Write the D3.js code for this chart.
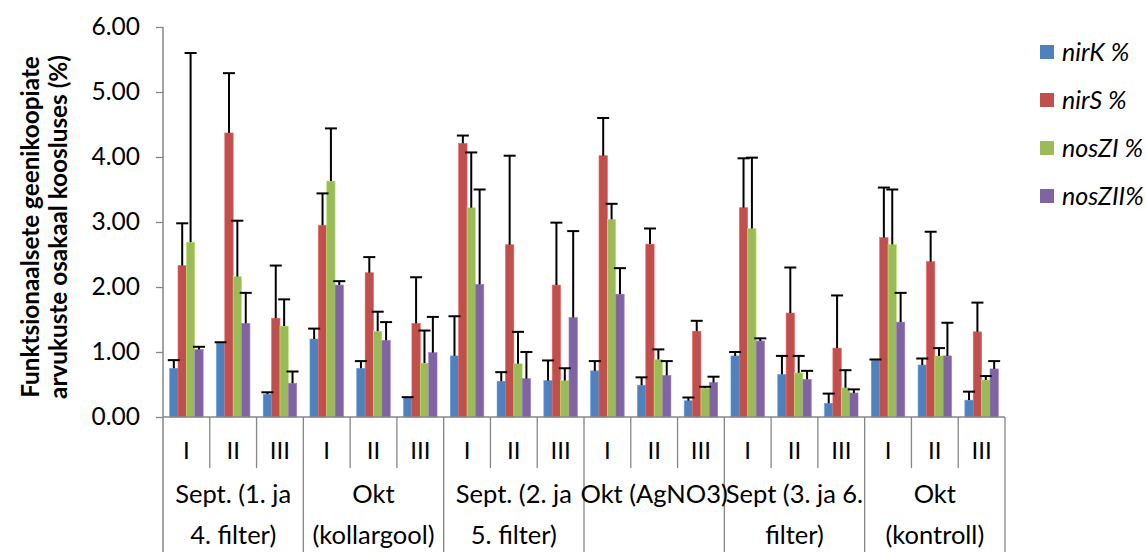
<!DOCTYPE html>
<html>
<head>
<meta charset="utf-8">
<script src="https://cdn.jsdelivr.net/npm/d3@7"></script>
<style>
  html, body { margin: 0; padding: 0; background: #fff; }
  svg { display: block; }
  text { font-family: Lato, "Open Sans", sans-serif; fill: #000; }
</style>
</head>
<body>
<svg id="chart" width="1146" height="552"></svg>
<script>
// ---- data ----
const mainCategories = [
  ["Sept. (1. ja", "4. filter)"],
  ["Okt", "(kollargool)"],
  ["Sept. (2. ja", "5. filter)"],
  ["Okt (AgNO3)"],
  ["Sept (3. ja 6.", "filter)"],
  ["Okt", "(kontroll)"]
];
const subCategories = ["I", "II", "III"];
const seriesNames = ["nirK %", "nirS %", "nosZI %", "nosZII%"];
const seriesColors = ["#4F81BD", "#C0504D", "#9BBB59", "#8064A2"];

const nirK   = [0.75, 1.14, 0.35, 1.20, 0.75, 0.30, 0.94, 0.55, 0.56, 0.71, 0.49, 0.25, 0.94, 0.655, 0.21, 0.875, 0.80, 0.26];
const nirS   = [2.33, 4.37, 1.52, 2.95, 2.22, 1.44, 4.21, 2.65, 2.03, 4.02, 2.66, 1.32, 3.22, 1.60, 1.06, 2.76, 2.39, 1.31];
const nosZI  = [2.69, 2.16, 1.40, 3.63, 1.32, 0.83, 3.22, 0.82, 0.56, 3.04, 0.885, 0.445, 2.90, 0.68, 0.45, 2.655, 0.94, 0.57];
const nosZII = [1.04, 1.44, 0.52, 2.03, 1.18, 0.99, 2.04, 0.59, 1.53, 1.89, 0.64, 0.53, 1.17, 0.58, 0.37, 1.46, 0.94, 0.74];

const nirKErr   = [0.125, 0.01, 0.03, 0.16, 0.11, 0.005, 0.61, 0.14, 0.31, 0.15, 0.12, 0.05, 0.06, 0.285, 0.15, 0.01, 0.10, 0.13];
const nirSErr   = [0.65, 0.92, 0.81, 0.49, 0.24, 0.71, 0.12, 1.37, 0.96, 0.58, 0.24, 0.16, 0.76, 0.70, 0.81, 0.77, 0.46, 0.45];
const nosZIErr  = [2.91, 0.86, 0.41, 0.81, 0.30, 0.50, 0.85, 0.49, 0.19, 0.24, 0.155, 0.02, 1.09, 0.26, 0.27, 0.845, 0.12, 0.06];
const nosZIIErr = [0.04, 0.47, 0.18, 0.06, 0.28, 0.55, 1.46, 0.41, 1.33, 0.40, 0.22, 0.09, 0.04, 0.13, 0.055, 0.45, 0.51, 0.12];

const yTicks = [0, 1, 2, 3, 4, 5, 6];
const yTitle = ["Funktsionaalsete geenikoopiate", "arvukuste osakaal koosluses (%)"];

// ---- build ----
const seriesValues = [nirK, nirS, nosZI, nosZII];
const seriesErrors = [nirKErr, nirSErr, nosZIErr, nosZIIErr];

const groups = [];
mainCategories.forEach((c, ci) => subCategories.forEach((s, si) => groups.push(ci + "-" + si)));

const svg = d3.select("#chart");
const plotL = 163, plotR = 1005, plotT = 27, plotB = 417;
const axisColor = "#868686";

const x = d3.scaleBand().domain(groups).range([plotL, plotR]).paddingInner(0).paddingOuter(0);
const xs = d3.scaleBand().domain(seriesNames).range([0, x.bandwidth()]).paddingInner(0).paddingOuter(0.79);
const y = d3.scaleLinear().domain([0, 6]).range([plotB, plotT]);

// bars
const barData = [];
seriesNames.forEach((name, k) => {
  groups.forEach((g, i) => {
    barData.push({ g, name, k, v: seriesValues[k][i], e: seriesErrors[k][i] });
  });
});

svg.append("g").selectAll("rect").data(barData).join("rect")
  .attr("x", d => x(d.g) + xs(d.name))
  .attr("y", d => y(d.v))
  .attr("width", xs.bandwidth())
  .attr("height", d => y(0) - y(d.v))
  .attr("fill", d => seriesColors[d.k])
  .attr("stroke", d => d3.color(seriesColors[d.k]).brighter(0.6))
  .attr("stroke-width", 0.6);

// error bars
const eg = svg.append("g").attr("stroke", "#000").attr("stroke-width", 2);
const capW = 12;
barData.forEach(d => {
  const cx = x(d.g) + xs(d.name) + xs.bandwidth() / 2;
  eg.append("line").attr("x1", cx).attr("x2", cx).attr("y1", y(d.v)).attr("y2", y(d.v + d.e));
  eg.append("line").attr("x1", cx - capW / 2).attr("x2", cx + capW / 2).attr("y1", y(d.v + d.e)).attr("y2", y(d.v + d.e));
});

// y axis
const yAxis = d3.axisLeft(y).tickValues(yTicks).tickFormat(d3.format(".2f")).tickSize(7).tickPadding(16);
const yg = svg.append("g").attr("transform", `translate(${plotL},0)`).call(yAxis);
yg.select(".domain").remove();
yg.selectAll(".tick line").attr("stroke", axisColor).attr("stroke-width", 1.3);
yg.selectAll(".tick text").attr("font-size", 24.5).attr("font-family", "Lato, sans-serif").attr("fill", "#000");
svg.append("line").attr("x1", plotL).attr("x2", plotL).attr("y1", plotT).attr("y2", 552)
  .attr("stroke", axisColor).attr("stroke-width", 1.5);

// x axis line
svg.append("line").attr("x1", plotL).attr("x2", plotR).attr("y1", plotB).attr("y2", plotB)
  .attr("stroke", axisColor).attr("stroke-width", 1.5);

// separators
groups.forEach((g, i) => {
  if (i === 0) return;
  const xx = x(g);
  const major = i % 3 === 0;
  svg.append("line").attr("x1", xx).attr("x2", xx).attr("y1", plotB).attr("y2", major ? 552 : 468)
    .attr("stroke", axisColor).attr("stroke-width", 1.3);
});
svg.append("line").attr("x1", plotR).attr("x2", plotR).attr("y1", plotB).attr("y2", 552)
  .attr("stroke", axisColor).attr("stroke-width", 1.3);

// sub labels
svg.append("g").selectAll("text").data(groups).join("text")
  .attr("x", g => x(g) + x.bandwidth() / 2)
  .attr("y", 451)
  .attr("dy", "0.35em")
  .attr("text-anchor", "middle")
  .attr("font-size", 24)
  .text((g, i) => subCategories[i % 3]);

// main labels
mainCategories.forEach((lines, ci) => {
  const x0 = x(groups[ci * 3]);
  const x1 = x(groups[ci * 3 + 2]) + x.bandwidth();
  const t = svg.append("text").attr("text-anchor", "middle").attr("font-size", 25.5);
  lines.forEach((ln, li) => {
    t.append("tspan").attr("x", (x0 + x1) / 2).attr("y", 494 + li * 41).attr("dy", "0.35em").text(ln);
  });
});

// y title
const tt = svg.append("text").attr("transform", `translate(44,227) rotate(-90)`)
  .attr("text-anchor", "middle").attr("font-weight", "bold").attr("font-size", 24.3);
yTitle.forEach((ln, li) => {
  tt.append("tspan").attr("x", 0).attr("y", (li - 0.5) * 28).attr("dy", "0.35em").text(ln);
});

// legend
const lg = svg.append("g");
seriesNames.forEach((name, k) => {
  const cy = 52 + k * 48;
  lg.append("rect").attr("x", 1040).attr("y", cy - 7).attr("width", 14).attr("height", 14).attr("fill", seriesColors[k]);
  lg.append("text").attr("x", 1062).attr("y", cy).attr("dy", "0.35em")
    .attr("font-size", 25).attr("font-style", "italic").text(name);
});
</script>
</body>
</html>
